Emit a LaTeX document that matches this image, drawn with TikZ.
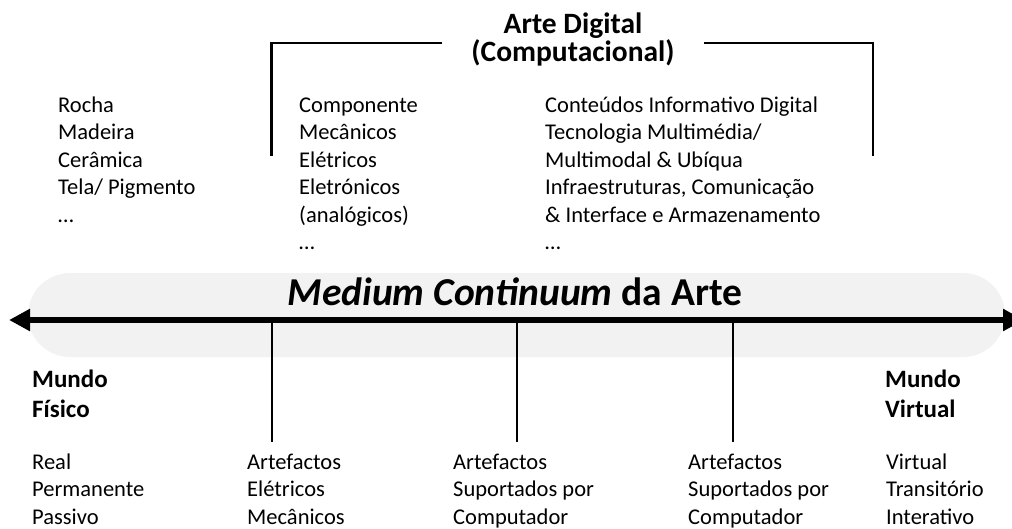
\documentclass[tikz,border=0pt]{standalone}
\usepackage{fontspec}
\setmainfont{Carlito}
\usetikzlibrary{arrows.meta}
\definecolor{bandgray}{HTML}{F2F2F2}
\begin{document}
\begin{tikzpicture}[x=1pt,y=-1pt,
  body/.style={inner sep=0pt,anchor=base west,align=left,font=\fontsize{22.5}{27.5}\selectfont},
  headbold/.style={inner sep=0pt,anchor=base west,align=left,font=\fontsize{25}{30}\selectfont\bfseries},
  titletext/.style={inner sep=0pt,anchor=base,align=center,font=\fontsize{29.5}{28}\selectfont\bfseries},
  bandtext/.style={inner sep=0pt,anchor=base,font=\fontsize{39.5}{44}\selectfont\bfseries},
  bracket/.style={line width=2.6pt,line cap=rect},
  tick/.style={line width=2pt},
  axis/.style={line width=6.5pt,{Triangle[length=21pt,width=21pt]}-{Triangle[length=21pt,width=21pt]}},
  band/.style={fill=bandgray,draw=none,rounded corners=42pt}]
\useasboundingbox (0,0) rectangle (1012,528);
\clip (0,0) rectangle (1012,528);
% band
\path[band] (28,273) rectangle (1005,357);
\node[bandtext] (mct) at (515,305) {\textit{Medium Continuum} da Arte};
% axis
\coordinate (L) at (9,320);
\coordinate (R) at (1024,320);
\draw[axis] (L) -- (R);
% ticks
\coordinate (t1) at (271.5,320); \coordinate (b1) at (271.5,442);
\coordinate (t2) at (516.5,320); \coordinate (b2) at (516.5,442);
\coordinate (t3) at (732.5,320); \coordinate (b3) at (732.5,442);
\draw[tick] (t1) -- (b1);
\draw[tick] (t2) -- (b2);
\draw[tick] (t3) -- (b3);
% title and bracket (base anchor = last line baseline)
\node[titletext] (title) at (573,61) {Arte Digital\\(Computacional)};
\coordinate (bl1) at (271.5,155); \coordinate (bl2) at (271.5,43); \coordinate (bl3) at (441,43);
\coordinate (br1) at (705,43); \coordinate (br2) at (873,43); \coordinate (br3) at (873,155);
\draw[bracket] (bl1) -- (bl2) -- (bl3);
\draw[bracket] (br1) -- (br2) -- (br3);
% upper columns (anchored at last line baseline)
\node[body] (c1) at (58,222) {Rocha\\Madeira\\Cerâmica\\Tela/ Pigmento\\…};
\node[body] (c2) at (299,249.5) {Componente\\Mecânicos\\Elétricos\\Eletrónicos\\(analógicos)\\…};
\node[body] (c3) at (545,249.5) {Conteúdos Informativo Digital\\Tecnologia Multimédia/\\Multimodal \& Ubíqua\\Infraestruturas, Comunicação\\\& Interface e Armazenamento\\…};
% world labels
\node[headbold] (mf) at (32,417) {Mundo\\Físico};
\node[headbold] (mv) at (885,417) {Mundo\\Virtual};
% lower columns
\node[body] (d1) at (32,524) {Real\\Permanente\\Passivo};
\node[body] (d2) at (247,524) {Artefactos\\Elétricos\\Mecânicos};
\node[body] (d3) at (453,524) {Artefactos\\Suportados por\\Computador};
\node[body] (d4) at (688,524) {Artefactos\\Suportados por\\Computador};
\node[body] (d5) at (886,524) {Virtual\\Transitório\\Interativo};
\end{tikzpicture}
\end{document}
